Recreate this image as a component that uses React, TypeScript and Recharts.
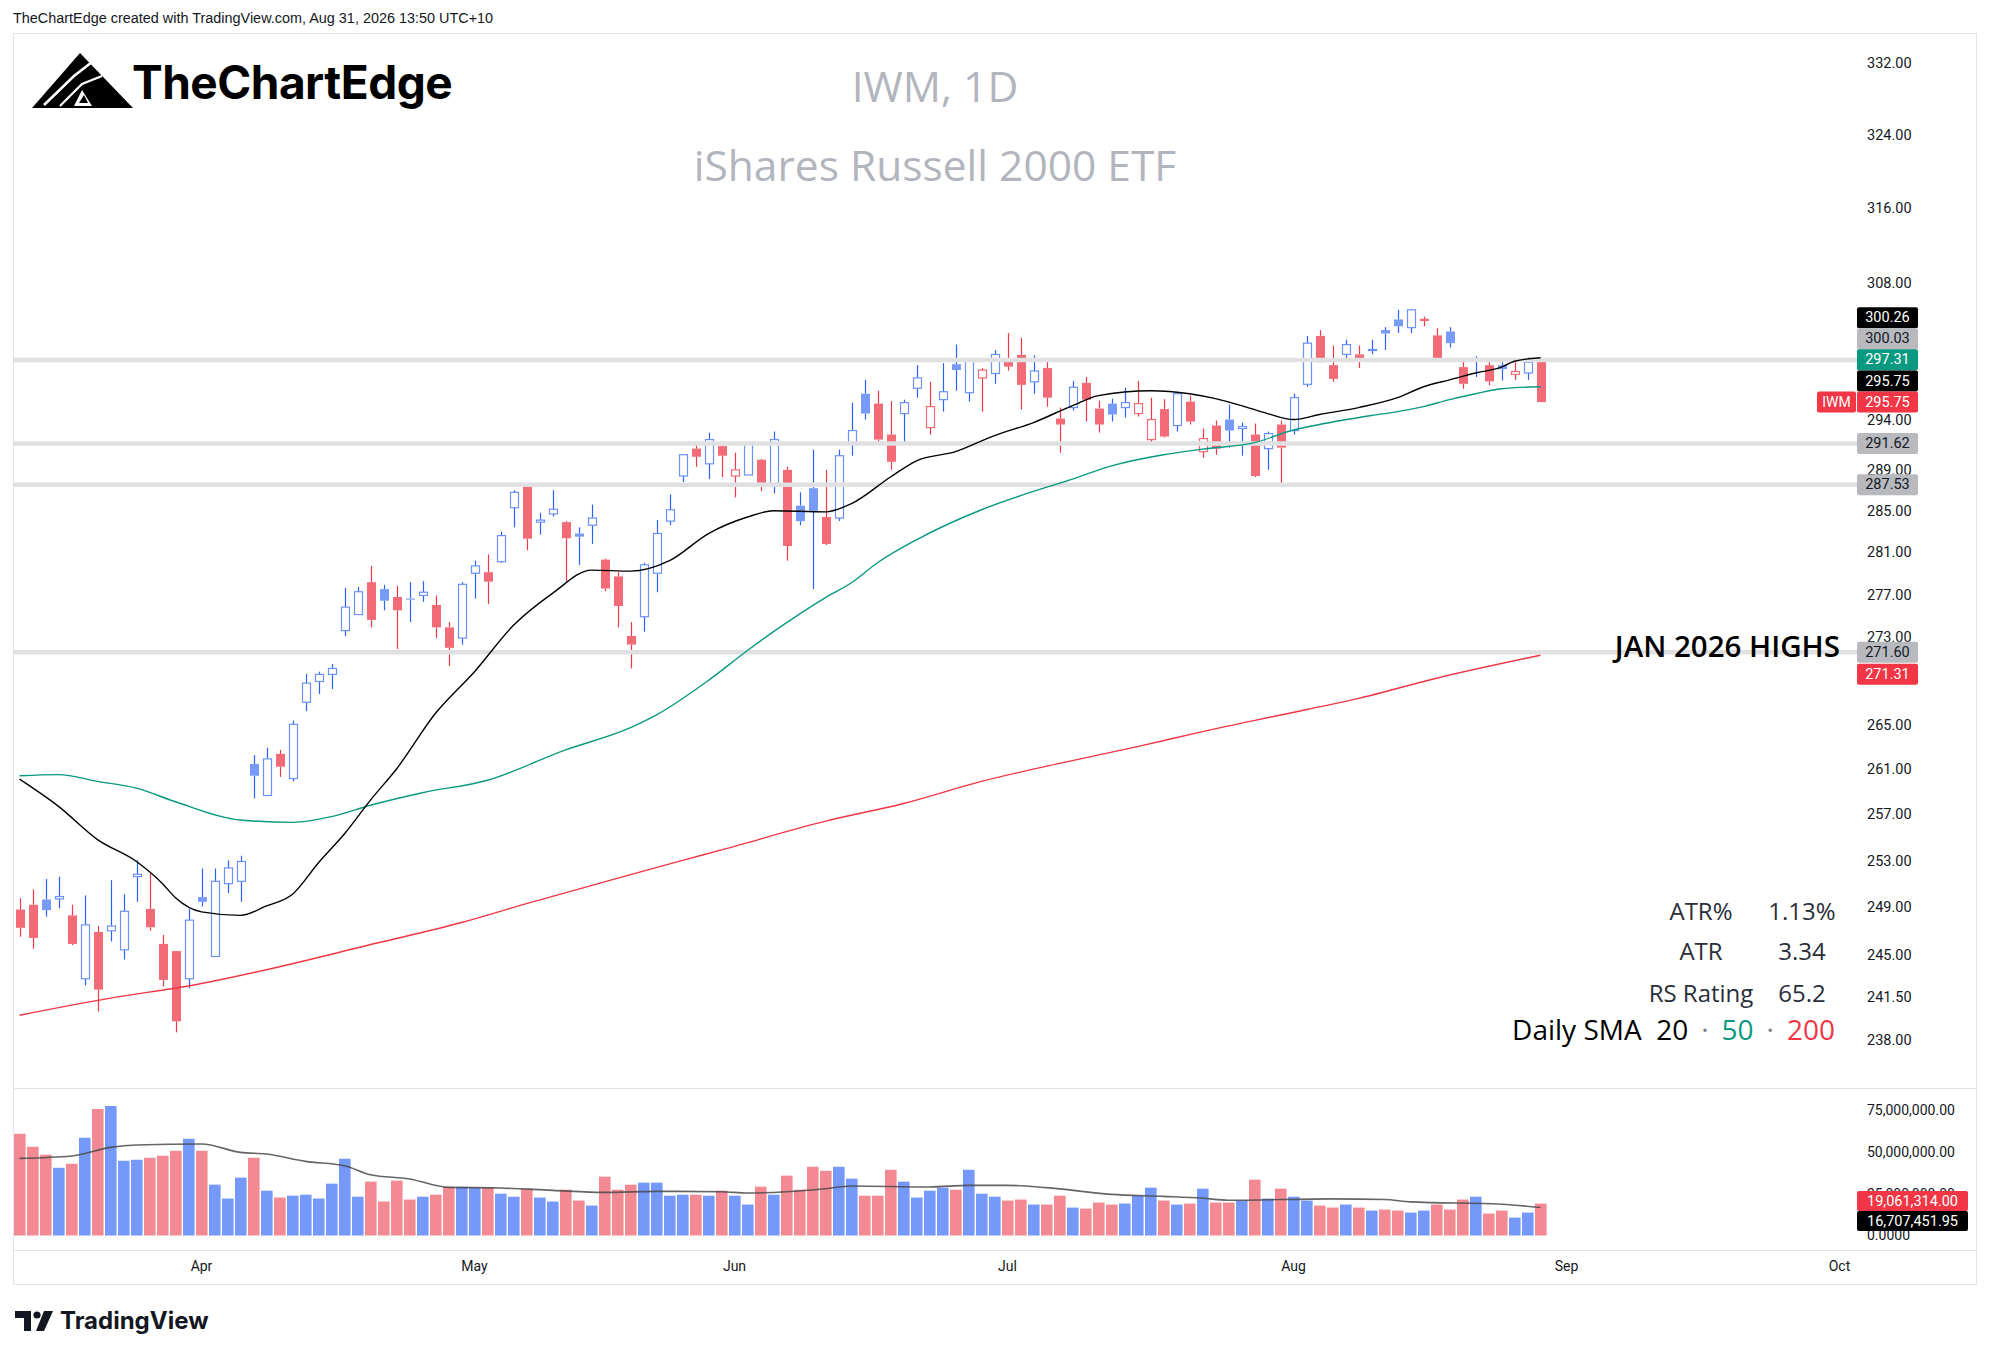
import React from 'react';
import { ComposedChart, Bar, Line, XAxis, YAxis, ReferenceLine, Cell } from 'recharts';

// calendar (NYSE trading days from Mar 12, 2026, plus empty future slots)
const START_UTC = Date.UTC(2026, 2, 12);
const HOLIDAYS = ['2026-04-03', '2026-05-25', '2026-06-19', '2026-07-03', '2026-09-07'];
const SLOTS = 142;
const MONTHS = ['Jan', 'Feb', 'Mar', 'Apr', 'May', 'Jun', 'Jul', 'Aug', 'Sep', 'Oct', 'Nov', 'Dec'];

// daily OHLC
const opens = [
  248.8, 249.2, 249.65, 249.7, 248.3, 243.0, 246.9, 247.0, 245.4, 251.6,
  248.85, 245.9, 245.3, 243.0, 249.85, 244.85, 251.0, 251.2, 261.45, 258.65,
  262.35, 260.15, 267.0, 268.9, 269.55, 273.6, 275.1, 278.15, 277.5, 276.75,
  276.6, 276.9, 276.0, 273.9, 272.9, 279.0, 279.1, 280.1, 285.3, 287.5,
  283.9, 284.7, 283.9, 282.8, 283.6, 280.3, 278.7, 273.1, 274.9, 279.0,
  284.0, 288.4, 291.1, 289.6, 291.35, 288.4, 288.5, 290.0, 287.6, 289.0,
  285.5, 287.2, 284.4, 284.3, 291.6, 296.6, 295.6, 292.5, 294.6, 297.15,
  293.2, 296.0, 299.6, 296.7, 298.2, 298.65, 300.0, 300.55, 297.8, 299.2,
  294.1, 295.2, 297.7, 295.1, 295.6, 295.2, 294.6, 292.0, 295.05, 293.4,
  295.8, 290.8, 293.4, 294.0, 293.1, 292.5, 291.1, 293.5, 292.9, 297.55,
  302.5, 299.5, 300.6, 300.6, 301.0, 303.1, 304.2, 303.35, 304.1, 302.55,
  302.95, 299.3, 299.9, 299.5, 299.5, 298.55, 298.7, 299.9,
];
const highs = [
  249.75, 250.5, 251.4, 251.6, 249.2, 250.0, 247.4, 251.3, 250.1, 253.0,
  251.9, 246.65, 245.3, 248.85, 252.3, 252.3, 253.0, 253.4, 262.25, 262.9,
  262.7, 265.35, 269.6, 269.8, 270.5, 277.6, 277.7, 279.7, 277.9, 277.8,
  278.15, 278.25, 276.9, 274.4, 278.15, 280.2, 280.8, 283.0, 287.0, 287.5,
  284.8, 287.0, 284.0, 283.4, 285.6, 280.4, 279.1, 274.4, 280.0, 284.1,
  286.6, 290.5, 291.7, 292.7, 291.45, 290.7, 291.8, 290.1, 292.8, 289.3,
  286.8, 291.0, 289.0, 291.0, 295.7, 298.0, 296.9, 295.85, 296.0, 299.5,
  297.8, 299.7, 301.6, 300.1, 299.2, 301.05, 302.8, 302.3, 300.5, 300.0,
  295.2, 297.9, 298.3, 295.9, 296.1, 297.2, 297.9, 296.2, 296.05, 296.7,
  296.4, 293.1, 293.9, 295.5, 293.7, 293.6, 292.8, 293.9, 296.6, 302.5,
  303.1, 301.5, 302.1, 301.5, 302.1, 303.4, 305.2, 305.3, 304.5, 303.3,
  303.4, 300.1, 300.4, 299.85, 299.85, 300.05, 300.3, 300.26,
];
const lows = [
  246.5, 245.5, 248.2, 248.9, 245.8, 242.45, 240.3, 246.1, 244.6, 249.45,
  247.0, 242.35, 238.6, 242.2, 249.05, 244.85, 250.2, 249.45, 258.4, 258.65,
  260.3, 259.9, 266.2, 267.75, 268.2, 273.1, 275.1, 273.9, 275.5, 271.9,
  274.4, 276.3, 272.9, 270.3, 272.3, 276.6, 276.1, 280.0, 283.4, 281.2,
  282.7, 284.45, 278.2, 279.8, 281.8, 277.3, 273.9, 270.1, 273.5, 277.2,
  283.6, 287.8, 289.3, 288.1, 288.3, 286.3, 288.5, 286.9, 286.7, 280.2,
  283.6, 277.5, 281.7, 284.0, 290.4, 294.0, 291.6, 289.0, 291.5, 296.2,
  292.5, 294.8, 296.9, 295.8, 294.8, 297.6, 298.95, 295.0, 296.6, 295.3,
  290.7, 294.9, 293.8, 292.7, 293.8, 294.2, 294.3, 291.7, 292.2, 292.8,
  293.5, 290.2, 290.5, 291.2, 290.4, 288.3, 289.0, 287.7, 292.5, 297.3,
  299.8, 297.8, 299.9, 299.2, 300.6, 301.05, 302.8, 302.8, 303.5, 300.2,
  301.3, 297.1, 298.3, 297.45, 297.95, 298.0, 298.0, 295.75,
];
const closes = [
  247.25, 246.4, 248.75, 249.9, 245.9, 247.5, 242.1, 247.4, 248.65, 251.8,
  247.3, 242.9, 239.5, 247.9, 249.45, 251.2, 252.35, 252.9, 260.4, 261.9,
  261.2, 265.0, 268.75, 269.55, 270.1, 275.8, 277.25, 274.6, 276.4, 275.5,
  276.5, 277.2, 273.9, 272.0, 277.95, 279.7, 278.2, 282.6, 286.8, 282.3,
  284.1, 285.15, 282.35, 282.5, 284.3, 277.55, 275.9, 272.3, 279.8, 282.8,
  285.1, 290.5, 290.3, 292.0, 290.4, 289.0, 291.6, 287.7, 292.0, 281.6,
  284.0, 285.0, 281.8, 290.4, 292.9, 294.6, 292.0, 289.8, 295.7, 298.2,
  295.3, 296.8, 299.0, 300.0, 299.0, 300.6, 299.35, 297.5, 298.9, 296.2,
  293.5, 297.25, 296.0, 293.5, 294.5, 295.7, 295.6, 294.0, 292.3, 296.6,
  293.8, 292.1, 291.1, 292.9, 293.3, 288.4, 292.6, 291.2, 296.2, 301.75,
  299.8, 298.1, 301.6, 300.0, 301.1, 302.75, 303.5, 305.2, 304.2, 300.2,
  301.75, 297.6, 300.05, 297.85, 299.1, 298.85, 299.8, 295.75,
];
// volume, millions of shares
const volumes = [
  60.8, 53.1, 48.3, 40.5, 42.9, 58.4, 75.7, 77.5, 44.7, 45.3,
  46.5, 47.7, 50.7, 57.8, 50.7, 30.4, 22.1, 34.6, 46.5, 26.8,
  22.7, 23.8, 24.4, 22.1, 31.0, 45.9, 23.2, 32.2, 20.3, 32.8,
  21.5, 23.2, 24.4, 29.2, 29.2, 28.6, 28.6, 25.0, 23.2, 28.0,
  22.7, 20.3, 27.4, 20.9, 17.9, 35.2, 27.4, 30.4, 31.6, 31.6,
  23.8, 24.4, 24.4, 23.8, 26.8, 23.8, 18.5, 29.2, 24.4, 35.8,
  27.4, 41.1, 38.7, 41.1, 34.0, 23.8, 23.8, 39.3, 32.2, 22.7,
  26.8, 28.6, 27.4, 39.3, 25.0, 23.2, 20.9, 21.5, 18.5, 18.5,
  23.8, 16.7, 16.1, 19.7, 18.5, 19.1, 23.8, 28.6, 20.9, 18.5,
  19.1, 28.0, 19.7, 19.7, 20.9, 33.4, 22.1, 28.0, 23.2, 20.9,
  17.9, 16.7, 18.5, 16.7, 14.9, 15.5, 14.9, 13.7, 14.9, 18.5,
  15.5, 21.5, 23.2, 13.1, 14.9, 10.7, 13.7, 19.061314,
];

// moving averages read at selected bars: [bar index, value]
const sma20Pts: [number, number][] = [
  [0, 260.1], [3, 257.7], [6, 254.8], [9, 252.9], [11, 251.0], [12, 249.8], [14, 248.6],
  [17, 248.3], [19, 249.1], [21, 250.1], [23, 252.8], [25, 255.3], [27, 258.25], [29, 261.0],
  [32, 266.0], [35, 269.8], [38, 274.1], [41, 277.1], [44, 279.3], [47, 279.2], [50, 280.2],
  [53, 282.8], [56, 284.4], [58, 285.0], [62, 284.9], [64, 285.7], [67, 288.3], [69, 289.9],
  [72, 290.8], [75, 292.4], [78, 293.7], [81, 295.4], [83, 296.4], [87, 296.9], [90, 296.6],
  [92, 296.1], [94, 295.4], [96, 294.6], [98, 294.0], [100, 294.5], [103, 295.2], [106, 296.2],
  [108, 297.3], [110, 298.0], [112, 298.7], [114, 299.3], [115, 299.9], [117, 300.26],
];
const sma50Pts: [number, number][] = [
  [0, 260.4], [3, 260.5], [6, 259.9], [9, 259.3], [12, 258.1], [17, 256.5], [21, 256.3],
  [24, 256.8], [27, 257.8], [31, 258.9], [36, 260.0], [42, 262.7], [47, 264.7], [49, 265.85],
  [53, 269.0], [56, 271.75], [58, 273.5], [62, 276.7], [64, 278.1], [66, 280.0], [69, 282.2],
  [74, 285.1], [78, 286.9], [81, 288.1], [84, 289.4], [88, 290.5], [91, 291.05], [95, 291.7],
  [98, 292.95], [100, 293.5], [104, 294.4], [106, 294.8], [108, 295.3], [110, 296.0],
  [112, 296.6], [114, 297.1], [117, 297.31],
];
const sma200Pts: [number, number][] = [
  [0, 240.0], [7, 241.4], [13, 242.4], [28, 246.1], [34, 247.7], [39, 249.3], [45, 251.15],
  [51, 253.0], [54, 253.9], [62, 256.4], [68, 257.95], [74, 259.9], [80, 261.5], [86, 263.0],
  [91, 264.35], [97, 265.85], [103, 267.35], [109, 269.2], [117, 271.31],
];
const volMaPts: [number, number][] = [
  [0, 46.1], [4, 47.5], [7, 52.7], [9, 54.1], [14, 54.7], [17, 49.7], [19, 48.7], [22, 44.3],
  [25, 41.7], [27, 36.3], [30, 33.8], [33, 28.8], [37, 28.4], [41, 27.0], [45, 25.8], [49, 26.4],
  [54, 26.2], [56, 25.4], [59, 26.2], [62, 28.0], [64, 29.6], [70, 29.0], [73, 30.0], [76, 30.0],
  [79, 28.6], [84, 24.6], [88, 23.4], [91, 22.3], [93, 21.1], [101, 21.9], [105, 21.5],
  [107, 20.1], [114, 18.7], [117, 16.70745195],
];

// drawn horizontal levels
const levels = [300.03, 291.62, 287.53, 271.6];
const priceTicks = [332, 324, 316, 308, 294, 289, 285, 281, 277, 273, 265, 261, 257, 253, 249, 245, 241.5, 238];
const volTicks = [0, 25, 50, 75];

const stats = [
  { label: 'ATR%', value: '1.13%' },
  { label: 'ATR', value: '3.34' },
  { label: 'RS Rating', value: '65.2' },
];

const UP_WICK = '#2962ff';
const DN_WICK = '#f23645';
const UP_BODY = '#769bfb';
const DN_BODY = '#f26b77';
const UP_LINE = '#6c92fa';
const VOL_UP = '#7599fa';
const VOL_DN = '#f38a93';
const LEVEL = '#e0e0e2';
const TAG_GRAY = '#b7b9be';
const TEXT = '#131722';
const AXIS_FONT = 'Roboto, "Liberation Sans", sans-serif';
const PRICE_DOMAIN: [number, number] = [234.12, 335.27];
const VOL_DOMAIN: [number, number] = [-8.67, 88.2];

const days: string[] = [];
for (let t = START_UTC; days.length < SLOTS; t += 86400000) {
  const dt = new Date(t);
  const s = dt.toISOString().slice(0, 10);
  const wd = dt.getUTCDay();
  if (wd !== 0 && wd !== 6 && !HOLIDAYS.includes(s)) days.push(s);
}
const monthLabel: Record<string, string> = {};
days.forEach((d, i) => {
  if (i > 0 && d.slice(5, 7) !== days[i - 1].slice(5, 7)) monthLabel[d] = MONTHS[Number(d.slice(5, 7)) - 1];
});

const pick = (pts: [number, number][], i: number) => {
  const p = pts.find((q) => q[0] === i);
  return p ? p[1] : null;
};

const data = days.map((d, i) => ({
  d,
  open: opens[i],
  high: highs[i],
  low: lows[i],
  close: closes[i],
  prev: i > 0 ? closes[i - 1] : opens[0],
  vol: volumes[i],
  sma20: pick(sma20Pts, i),
  sma50: pick(sma50Pts, i),
  sma200: pick(sma200Pts, i),
  volMa: pick(volMaPts, i),
}));

const Candle = (props: any) => {
  const { x, y, width, height, payload } = props;
  if (!payload || payload.open == null || !isFinite(y) || !isFinite(height)) return null;
  const { open, close, high, low, prev } = payload;
  const top = Math.min(y, y + height);
  const bot = Math.max(y, y + height);
  const span = Math.log(high) - Math.log(low) || 1;
  const py = (v: number) => top + ((bot - top) * (Math.log(high) - Math.log(v))) / span;
  const up = close >= prev;
  const hollow = close >= open;
  const cx = Math.round(x + width / 2) + 0.5;
  const yo = py(open);
  const yc = py(close);
  const bTop = Math.min(yo, yc);
  const bH = Math.max(1, Math.abs(yc - yo));
  const wick = up ? UP_WICK : DN_WICK;
  return (
    <g>
      <line x1={cx} x2={cx} y1={top} y2={bTop} stroke={wick} strokeWidth={1.2} />
      <line x1={cx} x2={cx} y1={bTop + bH} y2={bot} stroke={wick} strokeWidth={1.2} />
      {hollow ? (
        <rect x={cx - 4} y={bTop} width={8} height={bH} fill="#ffffff" stroke={up ? UP_LINE : DN_BODY} strokeWidth={1.2} />
      ) : (
        <rect x={cx - 4.5} y={bTop} width={9} height={bH} fill={up ? UP_BODY : DN_BODY} />
      )}
    </g>
  );
};

type TagOpts = { text: string; bg: string; fg: string; shift?: number; w?: number; h?: number; prefix?: string; note?: string };
const axisTag = ({ text, bg, fg, shift = 0, w = 61, h = 21, prefix, note }: TagOpts) => (p: any) => {
  const vb = p.viewBox || {};
  const x0 = vb.x + vb.width - 2;
  const cy = vb.y + shift;
  return (
    <g>
      {note && (
        <text x={x0 - 17} y={vb.y + 5} textAnchor="end" fill="#000" fontSize={29.5} fontWeight={600}
          fontFamily='"Open Sans", sans-serif'>{note}</text>
      )}
      {prefix && (
        <g>
          <rect x={x0 - 40} y={cy - h / 2} width={39} height={h} rx={2} fill={bg} />
          <text x={x0 - 20.5} y={cy} textAnchor="middle" dominantBaseline="central" fill={fg} fontSize={14}
            fontFamily={AXIS_FONT}>{prefix}</text>
        </g>
      )}
      <rect x={x0} y={cy - h / 2} width={w} height={h} rx={2} fill={bg} />
      <text x={x0 + w / 2} y={cy} textAnchor="middle" dominantBaseline="central" fill={fg} fontSize={14.5}
        fontFamily={AXIS_FONT}>{text}</text>
    </g>
  );
};

const fmtVol = (v: number) =>
  v === 0 ? '0.0000' : (v * 1e6).toLocaleString('en-US', { minimumFractionDigits: 2, maximumFractionDigits: 2 });

const M = { top: 0, right: 0, bottom: 0, left: 13 };

export default function App() {
  const abs = (l: number, t: number): React.CSSProperties => ({ position: 'absolute', left: l, top: t });
  return (
    <div style={{ position: 'absolute', left: 0, top: 0, width: 1989, height: 1358, background: '#fff', overflow: 'hidden', color: TEXT }}>
      {/* header line */}
      <div style={{ ...abs(13, 9), fontFamily: '"Liberation Sans", sans-serif', fontSize: 15.5, whiteSpace: 'nowrap', transform: 'scaleX(0.93)', transformOrigin: 'left top' }}>
        TheChartEdge created with TradingView.com, Aug 31, 2026 13:50 UTC+10
      </div>

      {/* frame and pane separators */}
      <div style={{ ...abs(13, 33), width: 1962, height: 1250, border: '1px solid #e0e3eb' }} />
      <div style={{ ...abs(13, 1088), width: 1963, height: 1, background: '#e0e3eb' }} />
      <div style={{ ...abs(13, 1250), width: 1963, height: 1, background: '#e0e3eb' }} />

      {/* price pane */}
      <div style={abs(0, 34)}>
        <ComposedChart width={1989} height={1054} data={data} margin={M}>
          <XAxis dataKey="d" type="category" hide />
          <YAxis orientation="right" width={130} scale="log" domain={PRICE_DOMAIN} allowDataOverflow
            ticks={priceTicks} interval={0} tickFormatter={(v: number) => v.toFixed(2)}
            axisLine={false} tickLine={false} tickSize={0} tickMargin={8}
            tick={{ fill: TEXT, fontSize: 14.5, fontFamily: AXIS_FONT }} />
          {levels.map((v) => (
            <ReferenceLine key={v} y={v} stroke={LEVEL} strokeWidth={4.5} />
          ))}
          <Bar dataKey={(r: any) => (r.open == null ? null : [r.low, r.high])} barSize={9} shape={<Candle />} isAnimationActive={false} />
          <Line dataKey="sma200" type="monotone" stroke="#f23645" strokeWidth={1.4} dot={false} connectNulls isAnimationActive={false} />
          <Line dataKey="sma50" type="monotone" stroke="#089981" strokeWidth={1.4} dot={false} connectNulls isAnimationActive={false} />
          <Line dataKey="sma20" type="monotone" stroke="#000000" strokeWidth={1.4} dot={false} connectNulls isAnimationActive={false} />
        </ComposedChart>
      </div>
      {/* price-scale tags, layered over the axis ticks */}
      <div style={abs(0, 34)}>
        <ComposedChart width={1989} height={1054} data={data} margin={M}>
          <XAxis dataKey="d" type="category" hide />
          <YAxis orientation="right" width={130} scale="log" domain={PRICE_DOMAIN} allowDataOverflow tick={false} axisLine={false} tickLine={false} />
          {levels.map((v) => (
            <ReferenceLine key={v} y={v} stroke="none"
              label={axisTag({ text: v.toFixed(2), bg: TAG_GRAY, fg: TEXT, note: v === 271.6 ? 'JAN 2026 HIGHS' : undefined })} />
          ))}
          <ReferenceLine y={300.26} stroke="none" label={axisTag({ text: '300.26', bg: '#000', fg: '#fff', shift: -40 })} />
          <ReferenceLine y={300.03} stroke="none" label={axisTag({ text: '300.03', bg: TAG_GRAY, fg: TEXT, shift: -21 })} />
          <ReferenceLine y={297.31} stroke="none" label={axisTag({ text: '297.31', bg: '#089981', fg: '#fff', shift: -27 })} />
          <ReferenceLine y={295.75} stroke="none" label={axisTag({ text: '295.75', bg: '#000', fg: '#fff', shift: -21 })} />
          <ReferenceLine y={295.75} stroke="none" label={axisTag({ text: '295.75', bg: '#f23645', fg: '#fff', prefix: 'IWM' })} />
          <ReferenceLine y={271.31} stroke="none" label={axisTag({ text: '271.31', bg: '#f23645', fg: '#fff', shift: 19 })} />
        </ComposedChart>
      </div>

      {/* volume pane + time axis */}
      <div style={abs(0, 1088)}>
        <ComposedChart width={1989} height={196} data={data} margin={M}>
          <XAxis dataKey="d" type="category" height={34} interval={0} axisLine={false} tickLine={false}
            tickSize={0} tickMargin={11} tickFormatter={(v: string) => monthLabel[v] ?? ''}
            tick={{ fill: TEXT, fontSize: 14, fontFamily: AXIS_FONT }} />
          <YAxis orientation="right" width={130} domain={VOL_DOMAIN} allowDataOverflow ticks={volTicks}
            interval={0} tickFormatter={fmtVol} axisLine={false} tickLine={false} tickSize={0} tickMargin={8}
            tick={{ fill: TEXT, fontSize: 14, fontFamily: AXIS_FONT }} />
          <Bar dataKey="vol" barSize={11.6} isAnimationActive={false}>
            {data.map((r) => (
              <Cell key={r.d} fill={r.close >= r.open ? VOL_UP : VOL_DN} />
            ))}
          </Bar>
          <Line dataKey="volMa" type="monotone" stroke="#4a4a4a" strokeOpacity={0.85} strokeWidth={1.6} dot={false} connectNulls isAnimationActive={false} />
        </ComposedChart>
      </div>
      <div style={abs(0, 1088)}>
        <ComposedChart width={1989} height={196} data={data} margin={M}>
          <XAxis dataKey="d" type="category" height={34} tick={false} axisLine={false} tickLine={false} />
          <YAxis orientation="right" width={130} domain={VOL_DOMAIN} allowDataOverflow tick={false} axisLine={false} tickLine={false} />
          <ReferenceLine y={19.061314} stroke="none" label={axisTag({ text: '19,061,314.00', bg: '#f23645', fg: '#fff', w: 111, h: 20, shift: -2.5 })} />
          <ReferenceLine y={16.70745195} stroke="none" label={axisTag({ text: '16,707,451.95', bg: '#000', fg: '#fff', w: 111, h: 20, shift: 13.5 })} />
        </ComposedChart>
      </div>

      {/* logo */}
      <svg style={abs(30, 50)} width={105} height={62} viewBox="0 0 105 62">
        <polygon points="2,58 50,3 103,58" fill="#000" />
        <polyline points="14,55 44,26 62,12" fill="none" stroke="#fff" strokeWidth={2.6} />
        <polyline points="30,56 52,34 72,26" fill="none" stroke="#fff" strokeWidth={2.2} />
        <polygon points="52,40 62,56 44,56" fill="#fff" />
        <polygon points="54,45 58,53 49,53" fill="#000" />
      </svg>
      <div style={{ ...abs(132, 56), fontFamily: 'Inter, sans-serif', fontWeight: 700, fontSize: 46, letterSpacing: -0.5, lineHeight: '52px', color: '#000', whiteSpace: 'nowrap' }}>
        TheChartEdge
      </div>

      {/* watermark title */}
      <div style={{ position: 'absolute', left: 535, width: 800, top: 86, transform: 'translateY(-50%)', textAlign: 'center', fontFamily: '"Open Sans", sans-serif', fontSize: 42.5, lineHeight: 1, color: '#b2b5be' }}>
        IWM, 1D
      </div>
      <div style={{ position: 'absolute', left: 535, width: 800, top: 165, transform: 'translateY(-50%)', textAlign: 'center', fontFamily: '"Open Sans", sans-serif', fontSize: 42.5, lineHeight: 1, color: '#b2b5be' }}>
        iShares Russell 2000 ETF
      </div>

      {/* stats table */}
      {stats.map((s, i) => (
        <React.Fragment key={s.label}>
          <div style={{ position: 'absolute', left: 1620, width: 162, top: [911, 951, 993][i], transform: 'translateY(-50%)', textAlign: 'center', fontFamily: '"Open Sans", sans-serif', fontSize: 24, lineHeight: 1, color: '#2a2e39' }}>
            {s.label}
          </div>
          <div style={{ position: 'absolute', left: 1742, width: 120, top: [911, 951, 993][i], transform: 'translateY(-50%)', textAlign: 'center', fontFamily: '"Open Sans", sans-serif', fontSize: 24, lineHeight: 1, color: '#2a2e39' }}>
            {s.value}
          </div>
        </React.Fragment>
      ))}
      <div style={{ position: 'absolute', right: 1989 - 1835, top: 1029, transform: 'translateY(-50%)', fontFamily: '"Open Sans", sans-serif', fontSize: 28, lineHeight: 1, whiteSpace: 'nowrap', color: '#000' }}>
        Daily SMA&nbsp;&nbsp;20
        <span style={{ color: '#787b86', margin: '0 13px' }}>·</span>
        <span style={{ color: '#089981' }}>50</span>
        <span style={{ color: '#787b86', margin: '0 13px' }}>·</span>
        <span style={{ color: '#f23645' }}>200</span>
      </div>

      {/* TradingView footer */}
      <svg style={abs(15, 1311)} width={38} height={20} viewBox="0 0 38 20">
        <path d="M0 0 H16 V20 H9 V7 H0 Z" fill={TEXT} />
        <circle cx={22} cy={4} r={3.6} fill={TEXT} />
        <path d="M29 0 H38 L29 20 H21 Z" fill={TEXT} />
      </svg>
      <div style={{ ...abs(60, 1321), transform: 'translateY(-50%)', fontFamily: 'Inter, sans-serif', fontWeight: 700, fontSize: 24, lineHeight: 1, color: TEXT, whiteSpace: 'nowrap' }}>
        TradingView
      </div>
    </div>
  );
}
